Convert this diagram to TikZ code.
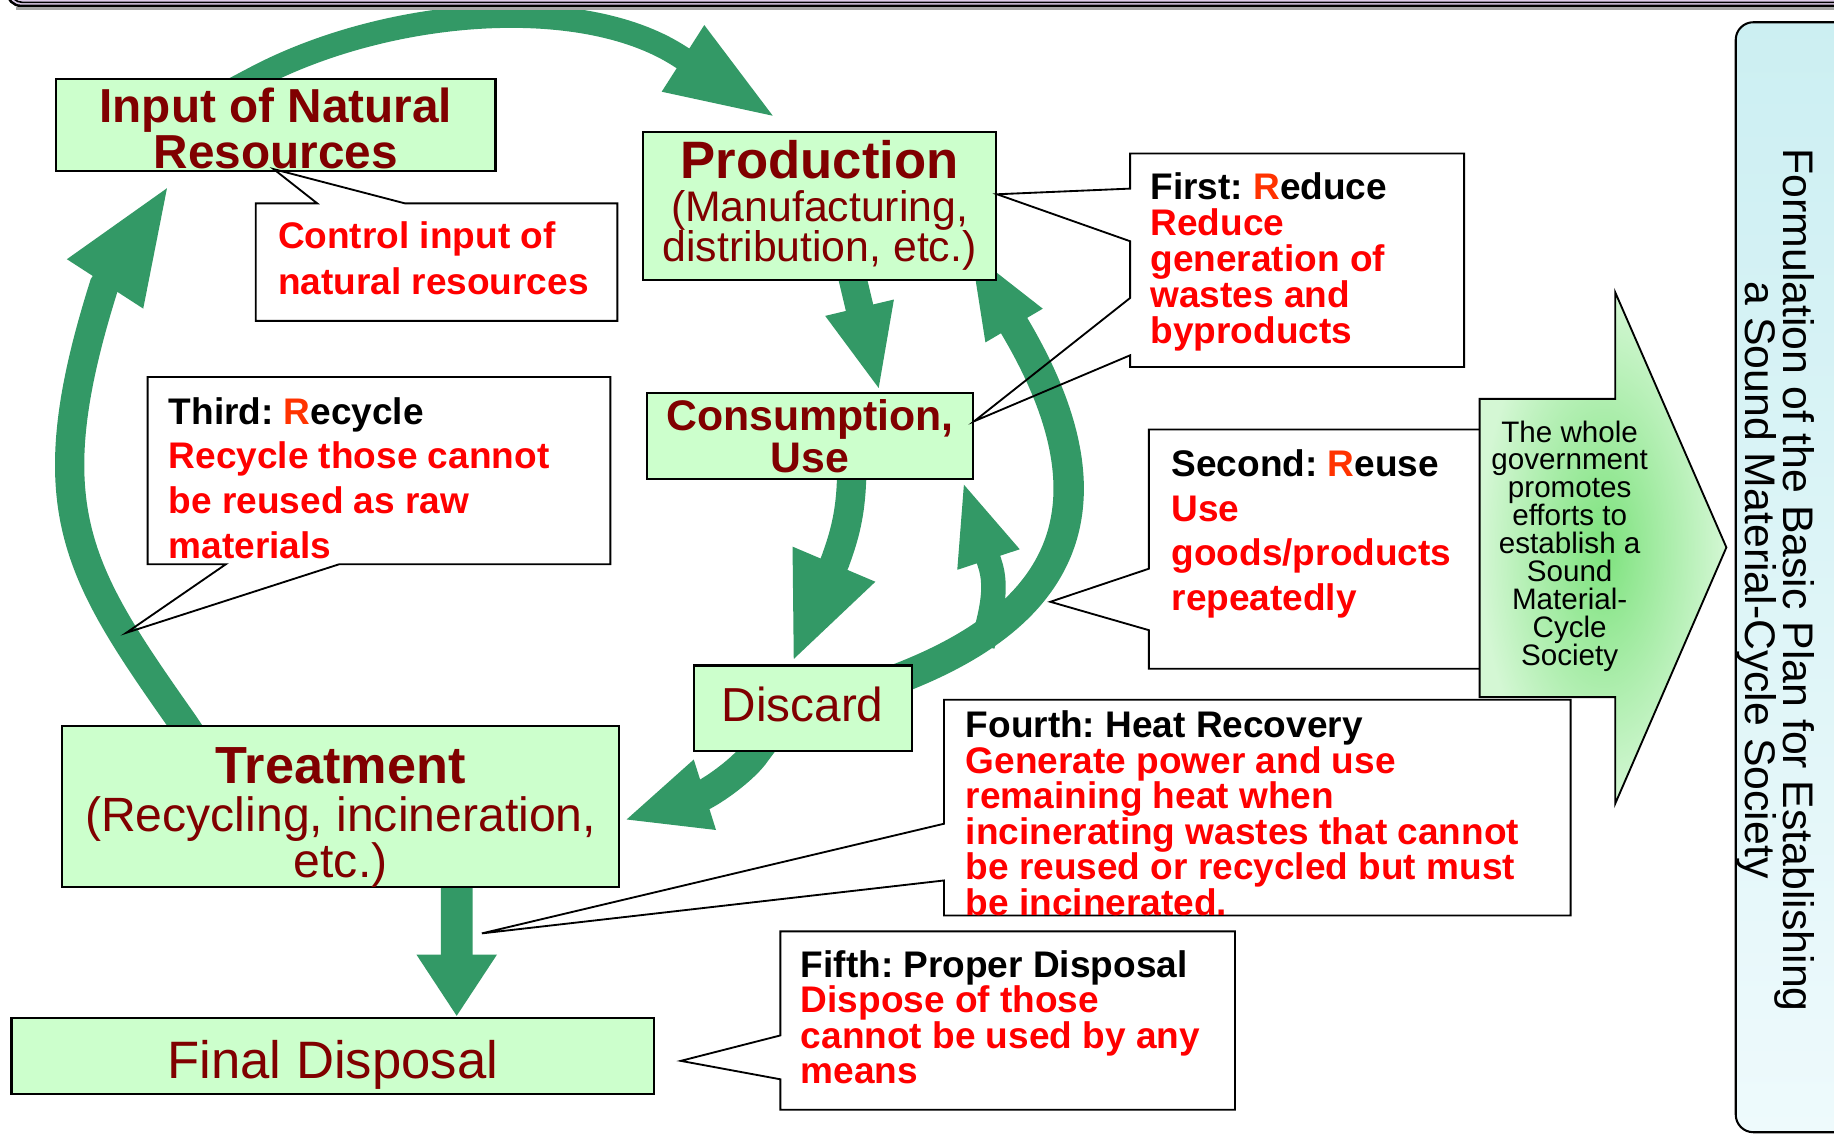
\documentclass[tikz,border=0pt]{standalone}
\usepackage{fontspec}
\setmainfont{Liberation Sans}
\usetikzlibrary{arrows.meta,backgrounds}
\frenchspacing

\definecolor{boxgreen}{RGB}{204,255,204}
\definecolor{boxred}{RGB}{128,0,0}
\definecolor{flowgreen}{RGB}{51,153,102}
\definecolor{notered}{RGB}{255,0,0}
\definecolor{rorange}{RGB}{255,51,0}
\definecolor{govin}{RGB}{125,226,125}
\definecolor{govout}{RGB}{212,247,212}
\definecolor{paneltop}{RGB}{204,239,242}
\definecolor{panelbot}{RGB}{238,250,252}
\definecolor{barlilac}{RGB}{222,204,234}

\newcommand{\fsz}[2]{\fontsize{#1pt}{#2pt}\selectfont\lineskiplimit=-20pt\relax}
\newcommand{\lift}[1]{\rule{0pt}{#1pt}}
\newcommand{\redR}{\textcolor{rorange}{R}}

\begin{document}
\begin{tikzpicture}[x=0.01cm, y=-0.01cm,
stage/.style={draw, line width=0.5pt, fill=boxgreen, text=boxred, inner sep=0pt, align=center},
note/.style={fill=white, inner sep=0pt},
noteline/.style={draw, line width=0.45pt},
notetext/.style={anchor=north west, inner sep=0pt, align=left, text=notered, font=\bfseries\fsz{9}{#1}},
flow/.style={draw=flowgreen, line width=#1}]
\useasboundingbox (0,0) rectangle (1568,969);

\node[stage, minimum width=3.755cm, minimum height=0.785cm, font=\bfseries\fsz{11.6}{11.1}] (input) at (235.75,106.75) {\lift{10.1}Input of Natural\\Resources};
\node[stage, minimum width=3.015cm, minimum height=1.265cm, font=\fsz{10.4}{9.7}] (prod) at (700.75,175.75) {{\bfseries\fsz{12.8}{12.8}Production}\\[0.85pt](Manufacturing,\\distribution, etc.)};
\node[stage, minimum width=2.79cm, minimum height=0.735cm, font=\bfseries\fsz{10.4}{10.1}] (cons) at (692.5,372.75) {Consumption,\\Use};
\node[stage, minimum width=1.865cm, minimum height=0.73cm, font=\fsz{11.6}{13}, text depth=2pt] (disc) at (686.25,605.5) {Discard};
\node[stage, minimum width=4.755cm, minimum height=1.21cm, font=\fsz{11.7}{11.1}] (treat) at (291.25,689.5) {\lift{14}{\bfseries\fsz{12.7}{12.7}Treatment}\\[0.7pt](Recycling, incineration,\\etc.)};
\node[stage, minimum width=5.49cm, minimum height=0.65cm, font=\fsz{12.8}{14}, text height=13.6pt, text depth=2.7pt] (final) at (284.5,902.5) {Final Disposal};

\coordinate (branch) at (840,552);
\coordinate (third_tip) at (108,541);
\coordinate (second_tip) at (898,514.5);
\coordinate (fourth_tip) at (412,798);

\begin{scope}[on background layer]
\fill[white] (0,0) rectangle (1568,969);
\draw[flow=0.2cm, -{Triangle[length=0.95cm, width=0.61cm]}] ([shift={(152,10)}]input.north west) -- ([shift={(170,0.5)}]input.north west) .. controls (330,7) and (496,-6) .. (580,47.4) -- ([shift={(115,-10.5)}]prod.north west);
\draw[flow=0.24cm, -{Triangle[length=0.74cm, width=0.54cm]}] ([shift={(177,-14)}]prod.south west) -- ([shift={(200,0)}]cons.north west);
\draw[flow=0.25cm, -{Triangle[length=0.92cm, width=0.69cm]}] ([shift={(178,-15)}]cons.south west) -- ([shift={(176,0)}]cons.south west) .. controls (727,440) and (722,458) .. (714,480) -- ([shift={(85,-1)}]disc.north west);
\draw[flow=0.26cm, -{Triangle[length=0.73cm, width=0.57cm]}] ([shift={(63,-12)}]disc.south west) -- ([shift={(54,0)}]disc.south west) .. controls (638,655) and (616,672) .. (601,680) -- ([shift={(3,82)}]treat.north east);
\draw[flow=0.27cm, -{Triangle[length=0.53cm, width=0.65cm]}] ([shift={(338,-12)}]treat.south west) -- ([shift={(381.5,0)}]final.north west);
\draw[flow=0.25cm, -{Triangle[length=1.03cm, width=0.69cm]}] ([shift={(113,12)}]treat.north west) -- ([shift={(105,0)}]treat.north west) .. controls (65,488) and (29,434) .. (89,244) -- ([shift={(98.8,9.3)}]input.south west);
\draw[flow=0.26cm, -{Triangle[length=0.77cm, width=0.5cm]}] ([shift={(-20,15)}]disc.north east) .. controls (880,539) and (973,458) .. (868,280) -- ([shift={(-24.5,-28)}]prod.south east);
\draw[flow=0.21cm, -{Triangle[length=0.71cm, width=0.5cm]}] (branch) .. controls (846,528) and (854,504) .. (846,481) -- ([shift={(-10,0.5)}]cons.south east);
\end{scope}

\node[note, minimum width=3.075cm, minimum height=0.99cm] (ctrl) at (373.25,224.1) {};
\coordinate (ctrl_tip) at ([shift={(187,-2.3)}]input.south west);
\draw[noteline] ([shift={(52.5,0)}]ctrl.north west) -- (ctrl_tip) -- ([shift={(127.5,0)}]ctrl.north west) -- (ctrl.north east) -- (ctrl.south east) -- (ctrl.south west) -- (ctrl.north west) -- cycle;
\node[notetext=11.1pt] (ctrl_t) at (237,189) {Control input of\\natural resources};

\node[note, minimum width=3.94cm, minimum height=1.586cm] (third) at (324,402.3) {};
\draw[noteline] (third.north west) -- (third.north east) -- (third.south east) -- ([shift={(164,0)}]third.south west) -- (third_tip) -- ([shift={(67,0)}]third.south west) -- (third.south west) -- cycle;
\node[notetext=10.9pt] (third_t) at (143.6,339) {{\color{black}Third: \redR ecycle}\\Recycle those cannot\\be reused as raw\\materials};

\node[note, minimum width=2.84cm, minimum height=1.81cm] (first) at (1109,222.5) {};
\coordinate (first_tipa) at ([shift={(0,54.5)}]prod.north east);
\coordinate (first_tipb) at ([shift={(0,25)}]cons.north east);
\draw[noteline] (first.north west) -- (first.north east) -- (first.south east) -- (first.south west) -- ([shift={(0,-10)}]first.south west) -- (first_tipb) -- ([shift={(0,-59)}]first.south west) -- ([shift={(0,75)}]first.north west) -- (first_tipa) -- ([shift={(0,30)}]first.north west) -- cycle;
\node[notetext=8.75pt] (first_t) at (983,147) {{\color{black}First: \redR educe}\\Reduce\\generation of\\wastes and\\byproducts};

\node[note, minimum width=2.82cm, minimum height=2.03cm] (second) at (1124,469.5) {};
\draw[noteline] (second.north west) -- (second.north east) -- (second.south east) -- (second.south west) -- ([shift={(0,-33)}]second.south west) -- (second_tip) -- ([shift={(0,119)}]second.north west) -- cycle;
\node[notetext=10.8pt] (second_t) at (1001,384) {{\color{black}Second: \redR euse}\\Use\\goods/products\\repeatedly};

\node[note, minimum width=5.34cm, minimum height=1.83cm] (fourth) at (1075,690.5) {};
\draw[noteline] (fourth.north west) -- (fourth.north east) -- (fourth.south east) -- (fourth.south west) -- ([shift={(0,-30)}]fourth.south west) -- (fourth_tip) -- ([shift={(0,106)}]fourth.north west) -- cycle;
\node[notetext=8.65pt] (fourth_t) at (825,607) {{\color{black}Fourth: Heat Recovery}\\Generate power and use\\remaining heat when\\incinerating wastes that cannot\\be reused or recycled but must\\be incinerated.};

\node[note, minimum width=3.87cm, minimum height=1.51cm] (fifth) at (861.5,872.5) {};
\coordinate (fifth_tip) at ([shift={(22,4.5)}]final.east);
\draw[noteline] (fifth.north west) -- (fifth.north east) -- (fifth.south east) -- (fifth.south west) -- ([shift={(0,-26)}]fifth.south west) -- (fifth_tip) -- ([shift={(0,89)}]fifth.north west) -- cycle;
\node[notetext=8.63pt] (fifth_t) at (684,812) {{\color{black}Fifth: Proper Disposal}\\Dispose of those\\cannot be used by any\\means};

\shadedraw[inner color=govin, outer color=govout, line width=0.45pt] (1265,341) -- (1381,341) -- (1381,250) -- (1476,468) -- (1381,687) -- (1381,596) -- (1265,596) -- cycle;
\node[font=\fsz{7.2}{6.8}, align=center, inner sep=0pt] (gov) at (1342,467) {The whole\\government\\promotes\\efforts to\\establish a\\Sound\\Material-\\Cycle\\Society};

\shadedraw[top color=paneltop, bottom color=panelbot, rounded corners=0.15cm, line width=0.5pt] (1484,19) rectangle (1650,968);
\node[rotate=-90, font=\fsz{10.4}{9.4}, align=center, inner sep=0pt] (plan) at (1518,496) {Formulation of the Basic Plan for Establishing\\a Sound Material-Cycle Society};

\draw[fill=barlilac, line width=0.6pt, rounded corners=0.12cm] (6,-40) rectangle (1650,5);
\draw[line width=0.4pt, rounded corners=0.1cm] (9,-40) rectangle (1650,2);
\draw[black!35, line width=0.8pt] (14,7.5) -- (1568,7.5);
\end{tikzpicture}
\end{document}
